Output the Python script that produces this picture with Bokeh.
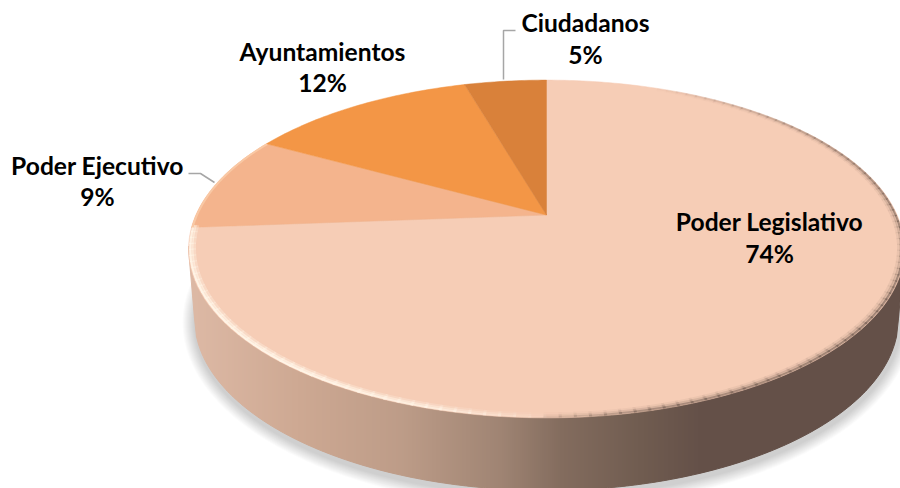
import numpy as np
from bokeh.plotting import figure
from bokeh.models import Range1d
from bokeh.core.properties import value
from bokeh.embed import file_html
from bokeh.resources import INLINE

categories = ["Poder Legislativo", "Poder Ejecutivo", "Ayuntamientos", "Ciudadanos"]
shares = [73.8, 9.2, 12.5, 4.5]
pct_labels = ["74%", "9%", "12%", "5%"]
slice_colors = ["#F6CDB6", "#F4B48D", "#F39646", "#D9813A"]

# page-pixel coordinate system of the 900x488 window
p = figure(width=900, height=488, x_range=Range1d(0, 900), y_range=Range1d(488, 0),
           output_backend="svg", toolbar_location=None, min_border=0)
p.axis.visible = False
p.grid.visible = False
p.outline_line_color = None
p.background_fill_color = "white"
p.border_fill_color = "white"

# perspective pie projection
CX, AY, R, PA, PC = 546.0, 214.5, 350.6, -118.9, 0.2012


def project(theta, f=1.0):
    u, v = f * np.sin(theta), f * np.cos(theta)
    d = PC * v + 1
    return CX + R * u / d, (PA * v + AY) / d


def lerp_hex(stops, x):
    xs = [s[0] for s in stops]
    rgb = [[int(s[1][i:i + 2], 16) for s in stops] for i in (1, 3, 5)]
    return "#%02x%02x%02x" % tuple(int(round(np.interp(x, xs, c))) for c in rgb)


# soft shadow
for k in range(12):
    grow = 13 - k
    p.ellipse(x=[CX + 1], y=[322], width=[2 * (352 + grow)], height=[2 * (172 + grow)],
              fill_color="black", fill_alpha=0.016, line_color=None)

# side wall
TCY, TRX, TRY = 248.5, 358.0, 169.0
BCY, BRX, BRY = 318.0, 352.0, 172.0
side_stops = [(188, "#DDB9A5"), (300, "#CDA892"), (400, "#BD9C88"), (500, "#9F8473"),
              (560, "#836C5E"), (640, "#705C50"), (700, "#645048"), (900, "#645048")]


def y_top(x):
    dx = min(abs(x - CX), TRX)
    return TCY + TRY * np.sqrt(1 - (dx / TRX) ** 2)


def y_bot(x):
    dx = abs(x - CX)
    if dx <= BRX:
        return BCY + BRY * np.sqrt(1 - (dx / BRX) ** 2)
    return BCY - (dx - BRX) * (BCY - TCY) / (TRX - BRX)


sx, sy, sc = [], [], []
for x0 in np.arange(188.0, 905.0, 2.0):
    x1 = x0 + 2.0
    sx.append([x0, x1, x1, x0])
    sy.append([y_top(x0) - 3, y_top(x1) - 3, y_bot(x1), y_bot(x0)])
    sc.append(lerp_hex(side_stops, x0))
p.patches(sx, sy, fill_color=sc, line_color=sc, line_width=1)

# top-face slices, clockwise from twelve o'clock
start = 0.0
for share, color in zip(shares, slice_colors):
    th = np.radians(np.linspace(start, start + share * 3.6, int(share * 4) + 2))
    xs, ys = project(th)
    p.patch(list(xs) + [CX], list(ys) + [AY], fill_color=color, line_color=color, line_width=0.5)
    start += share * 3.6

# rim shading along the edge of the top face
leg_end = shares[0] * 3.6
hi_t = [178, 195, 215, 245, leg_end - 0.5, leg_end]
hi_a = [0.0, 0.7, 1.0, 1.0, 0.8, 0.0]
dk_t = [20, 60, 95, 130, 165, 182]
dk_a = [0.0, 0.45, 0.8, 0.8, 0.65, 0.0]
dk_scale = {0.985: 0.1, 0.991: 0.25, 0.996: 0.7}
for f, w, inner in [(0.985, 3.5, 0.35), (0.991, 3.0, 0.65), (0.996, 2.0, 1.0)]:
    mx, my, mc, ma = [], [], [], []
    for t in np.arange(20.0, leg_end - 1.0, 2.0):
        a_hi = float(np.interp(t, hi_t, hi_a)) * inner
        a_dk = float(np.interp(t, dk_t, dk_a)) * dk_scale[f]
        xs, ys = project(np.radians(np.array([t, t + 2.4])), f)
        mx.append(list(xs))
        my.append(list(ys))
        if a_hi > 0:
            mc.append("#FFF4E6")
            ma.append(a_hi)
        else:
            mc.append("#6A564C")
            ma.append(a_dk)
    p.multi_line(mx, my, line_color=mc, line_alpha=ma, line_width=w, line_cap="butt")

# paler lip on the Poder Ejecutivo slice
lip = np.radians(np.linspace(leg_end, leg_end + shares[1] * 3.6, 30))
lx, ly = project(lip, 0.997)
p.line(list(lx), list(ly), line_color="#F9C8A4", line_width=2)

# leader lines
p.line([188, 200, 214], [173, 173, 182], line_color="#A6A6A6", line_width=1.5)
p.line([515, 503, 503], [30, 30, 79], line_color="#A6A6A6", line_width=1.5)

# labels
name_pos = [(769, 221), (97, 165), (322, 51), (585, 22)]
pct_pos = [(769, 253), (97, 196), (322, 82), (585, 54)]
for cat, pct, np_, pp_ in zip(categories, pct_labels, name_pos, pct_pos):
    p.text(x=[np_[0]], y=[np_[1]], text=[cat], text_font=value("Lato"), text_font_style="bold",
           text_font_size="24.6px", text_align="center", text_baseline="middle", text_color="black")
    p.text(x=[pp_[0]], y=[pp_[1]], text=[pct], text_font=value("Lato"), text_font_style="bold",
           text_font_size="24.6px", text_align="center", text_baseline="middle", text_color="black")

open("out.html", "w").write(file_html(p, INLINE))
